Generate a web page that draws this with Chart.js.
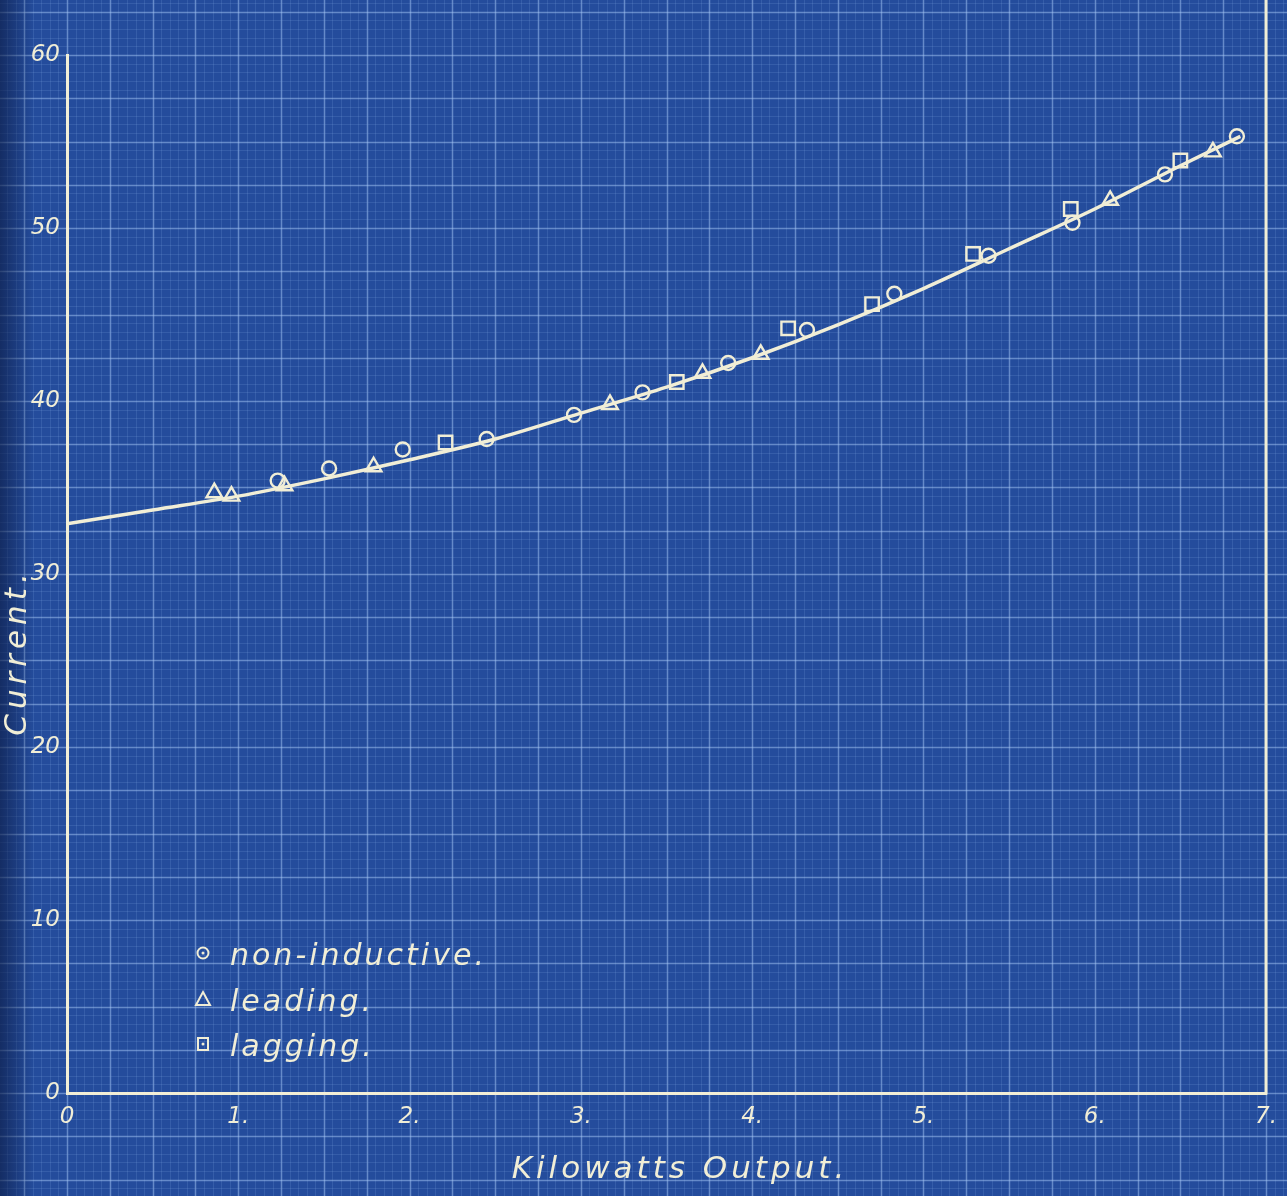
<!DOCTYPE html>
<html>
<head>
<meta charset="utf-8">
<script src="https://cdn.jsdelivr.net/npm/chart.js@4.4.1/dist/chart.umd.min.js"></script>
<style>
  html, body { margin: 0; padding: 0; background: #244c9c; }
  #wrap { width: 1287px; height: 1196px; }
</style>
</head>
<body>
<div id="wrap"><canvas id="c" width="1287" height="1196"></canvas></div>
<script>
// ---- data ----
const xTickLabels = ['0', '1.', '2.', '3.', '4.', '5.', '6.', '7.'];
const yTickLabels = ['0', '10', '20', '30', '40', '50', '60'];

const nonInductiveX = [1.23, 1.53, 1.96, 2.45, 2.96, 3.36, 3.86, 4.32, 4.83, 5.38, 5.87, 6.41, 6.83];
const nonInductiveY = [35.4, 36.1, 37.2, 37.8, 39.2, 40.5, 42.2, 44.1, 46.2, 48.4, 50.3, 53.1, 55.3];

const leadingX = [0.86, 0.96, 1.27, 1.79, 3.17, 3.71, 4.05, 6.09, 6.69];
const leadingY = [34.7, 34.5, 35.1, 36.2, 39.8, 41.6, 42.7, 51.6, 54.4];

const laggingX = [2.21, 3.56, 4.21, 4.70, 5.29, 5.86, 6.50];
const laggingY = [37.6, 41.1, 44.2, 45.6, 48.5, 51.1, 53.9];

const curveX = [0, 0.5, 1, 1.5, 2, 2.5, 3, 3.5, 4, 4.5, 5, 5.5, 6, 6.5, 6.85];
const curveY = [32.9, 33.7, 34.5, 35.5, 36.6, 37.8, 39.3, 40.8, 42.5, 44.4, 46.5, 48.8, 51.1, 53.6, 55.3];

const seriesLabels = ['non-inductive.', 'leading.', 'lagging.'];
const xTitle = 'Kilowatts Output.';
const yTitle = 'Current.';

// ---- styling ----
const INK = '#f1eed6';
const BG = '#244c9c';
const FONT = "'DejaVu Sans', sans-serif";

const pts = (xs, ys) => xs.map((x, i) => ({ x: x, y: ys[i] }));

const paperPlugin = {
  id: 'paper',
  beforeDraw(chart) {
    const ctx = chart.ctx;
    const W = chart.width, H = chart.height;
    const xs = chart.scales.x, ys = chart.scales.y;
    ctx.save();
    ctx.fillStyle = BG;
    ctx.fillRect(0, 0, W, H);
    // grid across the whole sheet, aligned with the scales
    for (let i = -40; i <= 150; i++) {
      const px = Math.round(xs.getPixelForValue(i * 0.05)) + 0.5;
      if (px < -2 || px > W + 2) continue;
      const major = i % 5 === 0;
      ctx.strokeStyle = major ? 'rgba(165,200,245,0.50)' : 'rgba(125,165,225,0.20)';
      ctx.lineWidth = major ? 1.5 : 1;
      ctx.beginPath(); ctx.moveTo(px, 0); ctx.lineTo(px, H); ctx.stroke();
    }
    for (let j = -30; j <= 140; j++) {
      const py = Math.round(ys.getPixelForValue(j * 0.5)) + 0.5;
      if (py < -2 || py > H + 2) continue;
      const major = j % 5 === 0;
      ctx.strokeStyle = major ? 'rgba(165,200,245,0.50)' : 'rgba(125,165,225,0.20)';
      ctx.lineWidth = major ? 1.5 : 1;
      ctx.beginPath(); ctx.moveTo(0, py); ctx.lineTo(W, py); ctx.stroke();
    }
    // darker left edge of the sheet
    const g = ctx.createLinearGradient(0, 0, 34, 0);
    g.addColorStop(0, 'rgba(12,28,70,0.65)');
    g.addColorStop(1, 'rgba(12,28,70,0)');
    ctx.fillStyle = g;
    ctx.fillRect(0, 0, 34, H);
    ctx.restore();
  },
  afterDraw(chart) {
    const ctx = chart.ctx;
    const xs = chart.scales.x, ys = chart.scales.y;
    ctx.save();
    // right frame line at 7 kW running to the top edge
    ctx.strokeStyle = INK;
    ctx.lineWidth = 3;
    const rx = xs.getPixelForValue(7);
    ctx.beginPath(); ctx.moveTo(rx, ys.getPixelForValue(0) + 1.5); ctx.lineTo(rx, 0); ctx.stroke();

    // axis titles
    ctx.fillStyle = INK;
    ctx.font = 'italic 31px ' + FONT;
    ctx.letterSpacing = '4px';
    ctx.textAlign = 'center';
    ctx.textBaseline = 'alphabetic';
    ctx.fillText(xTitle, 680, 1178);
    ctx.save();
    ctx.translate(26, 652);
    ctx.rotate(-Math.PI / 2);
    ctx.font = 'italic 31px ' + FONT;
    ctx.letterSpacing = '5px';
    ctx.fillText(yTitle, 0, 0);
    ctx.restore();

    // legend
    const lx = 203, ly = [953, 999, 1044];
    ctx.font = 'italic 30px ' + FONT;
    ctx.letterSpacing = '3px';
    ctx.textAlign = 'left';
    ctx.textBaseline = 'alphabetic';
    ctx.lineWidth = 2;
    ctx.strokeStyle = INK;
    chart.data.datasets.forEach((ds, i) => {
      if (i > 2) return;
      const cy = ly[i];
      ctx.beginPath();
      if (i === 0) {
        ctx.arc(lx, cy, 5.5, 0, Math.PI * 2); ctx.stroke();
        ctx.beginPath(); ctx.arc(lx, cy, 1.5, 0, Math.PI * 2); ctx.fill();
      } else if (i === 1) {
        ctx.moveTo(lx, cy - 7); ctx.lineTo(lx + 7, cy + 6); ctx.lineTo(lx - 7, cy + 6); ctx.closePath(); ctx.stroke();
      } else {
        ctx.rect(lx - 5, cy - 6, 10, 12); ctx.stroke();
        ctx.beginPath(); ctx.arc(lx, cy, 1.5, 0, Math.PI * 2); ctx.fill();
      }
      ctx.fillText(ds.label, 230, cy + 12);
    });
    ctx.restore();
  }
};

const markerCommon = {
  showLine: false,
  borderColor: INK,
  backgroundColor: 'rgba(0,0,0,0)',
  pointBorderColor: INK,
  pointBackgroundColor: 'rgba(0,0,0,0)',
  pointBorderWidth: 2.4,
  pointHoverRadius: 8
};

new Chart(document.getElementById('c'), {
  type: 'scatter',
  data: {
    datasets: [
      Object.assign({ label: seriesLabels[0], data: pts(nonInductiveX, nonInductiveY), pointStyle: 'circle', pointRadius: 7 }, markerCommon),
      Object.assign({ label: seriesLabels[1], data: pts(leadingX, leadingY), pointStyle: 'triangle', pointRadius: 9 }, markerCommon),
      Object.assign({ label: seriesLabels[2], data: pts(laggingX, laggingY), pointStyle: 'rect', pointRadius: 9.5 }, markerCommon),
      {
        label: 'curve',
        type: 'line',
        data: pts(curveX, curveY),
        showLine: true,
        borderColor: INK,
        borderWidth: 3.5,
        pointRadius: 0,
        fill: false,
        tension: 0.4,
        cubicInterpolationMode: 'monotone'
      }
    ]
  },
  options: {
    responsive: false,
    animation: false,
    devicePixelRatio: 1,
    layout: { padding: { top: 55, right: 15, left: 0, bottom: 0 } },
    plugins: { legend: { display: false }, tooltip: { enabled: false } },
    scales: {
      x: {
        type: 'linear', min: 0, max: 7,
        afterFit(s) { s.height = 103; },
        grid: { display: false, drawTicks: false },
        border: { display: true, color: INK, width: 3 },
        ticks: {
          stepSize: 1, color: INK, padding: 10,
          font: { family: FONT, size: 23, style: 'italic' },
          callback: (v) => xTickLabels[v] !== undefined ? xTickLabels[v] : ''
        }
      },
      y: {
        type: 'linear', min: 0, max: 60,
        afterFit(s) { s.width = 67; },
        grid: { display: false, drawTicks: false },
        border: { display: true, color: INK, width: 3 },
        ticks: {
          stepSize: 10, color: INK, padding: 7,
          font: { family: FONT, size: 23, style: 'italic' },
          callback: (v) => yTickLabels[v / 10] !== undefined ? yTickLabels[v / 10] : ''
        }
      }
    }
  },
  plugins: [paperPlugin]
});
</script>
</body>
</html>
